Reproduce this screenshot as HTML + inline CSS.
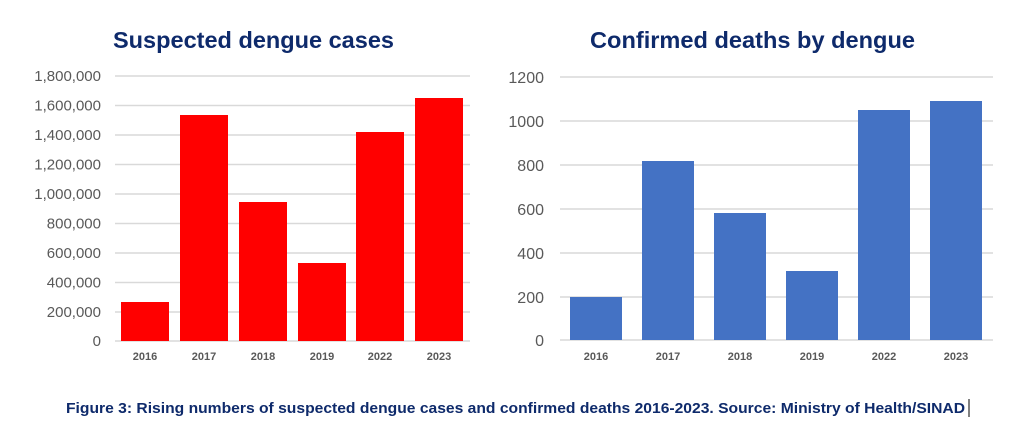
<!DOCTYPE html>
<html><head><meta charset="utf-8"><style>body{margin:0;background:#fff}</style></head><body>
<svg width="1024" height="422" xmlns="http://www.w3.org/2000/svg" font-family="Liberation Sans, Arial, sans-serif">
<rect width="1024" height="422" fill="#fff"/>
<text x="113" y="48" font-size="23" font-weight="bold" fill="#0e2a6b" textLength="281" lengthAdjust="spacingAndGlyphs">Suspected dengue cases</text>
<text x="590" y="48" font-size="23" font-weight="bold" fill="#0e2a6b" textLength="325" lengthAdjust="spacingAndGlyphs">Confirmed deaths by dengue</text>
<g stroke="#d9d9d9" stroke-width="1.5">
<line x1="115" x2="470" y1="76" y2="76"/><line x1="115" x2="470" y1="105.5" y2="105.5"/><line x1="115" x2="470" y1="135" y2="135"/><line x1="115" x2="470" y1="164.5" y2="164.5"/><line x1="115" x2="470" y1="194" y2="194"/><line x1="115" x2="470" y1="223.5" y2="223.5"/><line x1="115" x2="470" y1="253" y2="253"/><line x1="115" x2="470" y1="282.5" y2="282.5"/><line x1="115" x2="470" y1="312" y2="312"/><line x1="115" x2="470" y1="341" y2="341"/>
<line x1="560" x2="993" y1="77" y2="77"/><line x1="560" x2="993" y1="121" y2="121"/><line x1="560" x2="993" y1="165" y2="165"/><line x1="560" x2="993" y1="209" y2="209"/><line x1="560" x2="993" y1="253" y2="253"/><line x1="560" x2="993" y1="297" y2="297"/><line x1="560" x2="993" y1="340" y2="340"/>
</g>
<g font-size="15" fill="#595959" text-anchor="end">
<text x="101" y="81">1,800,000</text><text x="101" y="110.5">1,600,000</text><text x="101" y="140">1,400,000</text><text x="101" y="169.5">1,200,000</text><text x="101" y="199">1,000,000</text><text x="101" y="228.5">800,000</text><text x="101" y="258">600,000</text><text x="101" y="287.5">400,000</text><text x="101" y="317">200,000</text><text x="101" y="346">0</text>
<text x="544" y="83" font-size="16">1200</text><text x="544" y="127" font-size="16">1000</text><text x="544" y="171" font-size="16">800</text><text x="544" y="215" font-size="16">600</text><text x="544" y="259" font-size="16">400</text><text x="544" y="303" font-size="16">200</text><text x="544" y="346" font-size="16">0</text>
</g>
<g fill="#ff0000">
<rect x="121" y="302" width="48" height="39"/><rect x="180" y="115" width="48" height="226"/><rect x="239" y="202" width="48" height="139"/><rect x="298" y="263" width="48" height="78"/><rect x="356" y="132" width="48" height="209"/><rect x="415" y="98" width="48" height="243"/>
</g>
<g fill="#4472c4">
<rect x="570" y="297" width="52" height="43"/><rect x="642" y="161" width="52" height="179"/><rect x="714" y="213" width="52" height="127"/><rect x="786" y="271" width="52" height="69"/><rect x="858" y="110" width="52" height="230"/><rect x="930" y="101" width="52" height="239"/>
</g>
<g font-size="11" font-weight="bold" fill="#595959" text-anchor="middle">
<text x="145" y="360">2016</text><text x="204" y="360">2017</text><text x="263" y="360">2018</text><text x="322" y="360">2019</text><text x="380" y="360">2022</text><text x="439" y="360">2023</text>
<text x="596" y="360">2016</text><text x="668" y="360">2017</text><text x="740" y="360">2018</text><text x="812" y="360">2019</text><text x="884" y="360">2022</text><text x="956" y="360">2023</text>
</g>
<text x="66" y="413" font-size="15" font-weight="bold" fill="#0e2a6b" textLength="899" lengthAdjust="spacingAndGlyphs">Figure 3: Rising numbers of suspected dengue cases and confirmed deaths 2016-2023. Source: Ministry of Health/SINAD</text>
<line x1="969" y1="399" x2="969" y2="417" stroke="#000" stroke-width="1"/>
</svg>
</body></html>
